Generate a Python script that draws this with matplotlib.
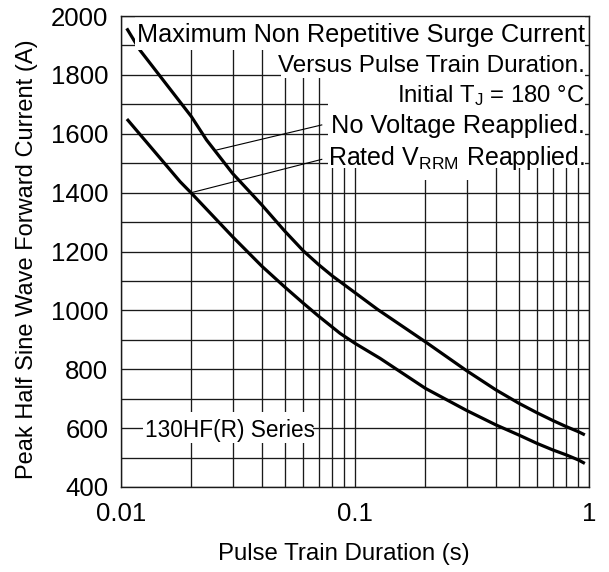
import matplotlib
matplotlib.use("Agg")
import matplotlib.pyplot as plt
from matplotlib.patches import Rectangle
from matplotlib.ticker import FixedLocator, NullFormatter, FixedFormatter

plt.rcParams['font.family'] = ['Liberation Sans', 'DejaVu Sans']
plt.rcParams['mathtext.fontset'] = 'custom'
plt.rcParams['mathtext.rm'] = 'Liberation Sans'
plt.rcParams['mathtext.it'] = 'Liberation Sans:italic'
plt.rcParams['mathtext.bf'] = 'Liberation Sans:bold'

# ---- data ----
no_voltage_t = [0.01058, 0.01205, 0.02, 0.0232, 0.03, 0.04, 0.05, 0.06, 0.07, 0.08,
                0.09, 0.1, 0.125, 0.2, 0.3, 0.4, 0.5, 0.6, 0.7, 0.8, 0.9, 0.96]
no_voltage_i = [1958, 1884, 1658, 1579, 1465, 1358, 1270, 1203, 1155, 1117,
                1087, 1060, 1003, 893, 795, 730, 685, 652, 626, 605, 588, 577]

rated_t = [0.0106, 0.0179, 0.02, 0.03, 0.04, 0.05, 0.06, 0.07, 0.0863, 0.1,
           0.128, 0.2, 0.3, 0.4, 0.5, 0.6, 0.7, 0.8, 0.9, 0.96]
rated_i = [1650, 1437, 1398, 1250, 1150, 1080, 1025, 980, 922, 888,
           837, 735, 660, 611, 577, 548, 526, 509, 492, 480]

# leader lines: (curve point) -> (label point)
leader_nv_t = [0.02566, 0.0721]
leader_nv_i = [1545, 1630]
leader_r_t = [0.02, 0.0721]
leader_r_i = [1400, 1513]

xtick_vals = [0.01, 0.1, 1]
xtick_labels = ['0.01', '0.1', '1']
xminor_vals = [0.02, 0.03, 0.04, 0.05, 0.06, 0.07, 0.08, 0.09,
               0.2, 0.3, 0.4, 0.5, 0.6, 0.7, 0.8, 0.9]
ytick_vals = [400, 600, 800, 1000, 1200, 1400, 1600, 1800, 2000]
yminor_vals = [500, 700, 900, 1100, 1300, 1500, 1700, 1900]

fig = plt.figure(figsize=(6.09, 5.72), dpi=100)
ax = fig.add_axes([121/609, 1-487/572, 468/609, 471/572])
ax.set_xscale('log')
ax.set_xlim(0.01, 1)
ax.set_ylim(400, 2000)

ax.xaxis.set_major_locator(FixedLocator(xtick_vals))
ax.xaxis.set_major_formatter(FixedFormatter(xtick_labels))
ax.xaxis.set_minor_locator(FixedLocator(xminor_vals))
ax.xaxis.set_minor_formatter(NullFormatter())
ax.yaxis.set_major_locator(FixedLocator(ytick_vals))
ax.yaxis.set_minor_locator(FixedLocator(yminor_vals))

ax.tick_params(which='both', length=0)
ax.tick_params(axis='x', pad=11, labelsize=18.5)
ax.tick_params(axis='y', pad=9, labelsize=18.5)

ax.set_axisbelow(True)
ax.grid(True, which='both', color='#1a1a1a', linewidth=0.95)
for s in ax.spines.values():
    s.set_linewidth(1.0)
    s.set_color('#1a1a1a')
    s.set_zorder(6)

ax.plot(no_voltage_t, no_voltage_i, color='black', lw=2.3, zorder=2,
        solid_capstyle='butt', solid_joinstyle='round')
ax.plot(rated_t, rated_i, color='black', lw=2.3, zorder=2,
        solid_capstyle='butt', solid_joinstyle='round')
ax.plot(leader_nv_t, leader_nv_i, color='black', lw=0.8, zorder=2)
ax.plot(leader_r_t, leader_r_i, color='black', lw=0.8, zorder=2)

# white areas behind the annotation texts
masks = [
    (0.030, 0.928, 0.9625, 0.072),
    (0.342, 0.868, 0.6505, 0.060),
    (0.442, 0.677, 0.5505, 0.191),
    (0.628, 0.652, 0.122, 0.026),
    (0.047, 0.093, 0.363, 0.066),
]
for (x0, y0, w, h) in masks:
    ax.add_patch(Rectangle((x0, y0), w, h, transform=ax.transAxes,
                           facecolor='white', edgecolor='none', zorder=3))

tx = 0.9915
ax.text(tx, 0.945, 'Maximum Non Repetitive Surge Current', transform=ax.transAxes,
        ha='right', va='baseline', fontsize=18.2, zorder=4)
ax.text(tx, 0.881, 'Versus Pulse Train Duration.', transform=ax.transAxes,
        ha='right', va='baseline', fontsize=17.5, zorder=4)
ax.text(tx, 0.817, 'Initial T$_\\mathrm{J}$ = 180 °C', transform=ax.transAxes,
        ha='right', va='baseline', fontsize=17.2, zorder=4)
ax.text(tx, 0.752, 'No Voltage Reapplied.', transform=ax.transAxes,
        ha='right', va='baseline', fontsize=18.3, zorder=4)
ax.text(tx, 0.684, 'Rated V$_\\mathrm{RRM}$ Reapplied.', transform=ax.transAxes,
        ha='right', va='baseline', fontsize=18.0, zorder=4)
ax.text(0.051, 0.106, '130HF(R) Series', transform=ax.transAxes,
        ha='left', va='baseline', fontsize=16.3, zorder=4)

ax.set_xlabel('Pulse Train Duration (s)', fontsize=17.3)
ax.xaxis.set_label_coords(0.4765, -0.119)
ax.set_ylabel('Peak Half Sine Wave Forward Current (A)', fontsize=17)
ax.yaxis.set_label_coords(-0.178, 0.483)

fig.savefig('out.png', dpi=100)
